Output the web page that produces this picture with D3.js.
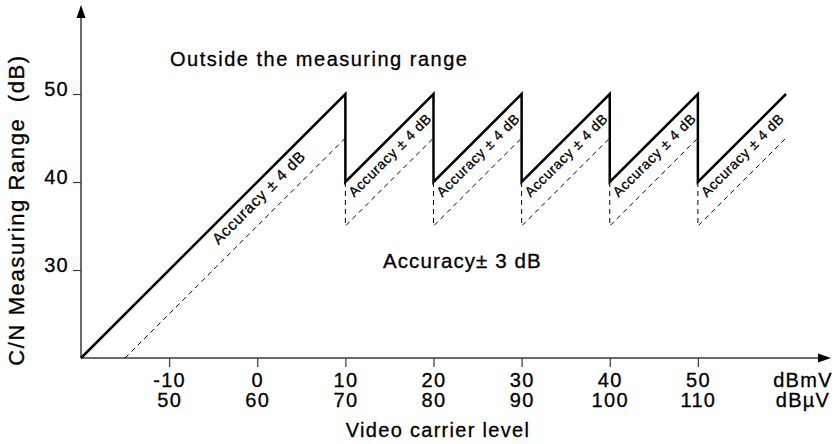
<!DOCTYPE html>
<html>
<head>
<meta charset="utf-8">
<script src="https://cdn.jsdelivr.net/npm/d3@7"></script>
<style>
  body { margin: 0; background: #fff; }
  svg text {
    font-family: "Liberation Sans", Arial, Helvetica, sans-serif;
    fill: #000;
    stroke: #000;
    stroke-width: 0.3px;
  }
</style>
</head>
<body>
<div id="chart"></div>
<script>
// tick values and labels
const xTicks = [-10, 0, 10, 20, 30, 40, 50];
const xTicksMicro = [50, 60, 70, 80, 90, 100, 110];
const yTicks = [30, 40, 50];

// upper limit of the measuring range (dBmV, dB)
const solidLine = [
  [-20, 20], [10, 50], [10, 40], [20, 50], [20, 40], [30, 50],
  [30, 40], [40, 50], [40, 40], [50, 50], [50, 40], [60, 50]
];

// boundary between +/-4 dB and +/-3 dB accuracy
const dashedLines = [
  [[-15, 20], [10, 45]],
  [[10, 40], [10, 35], [20, 45]],
  [[20, 40], [20, 35], [30, 45]],
  [[30, 40], [30, 35], [40, 45]],
  [[40, 40], [40, 35], [50, 45]],
  [[50, 40], [50, 35], [60, 45]]
];

// start of each "Accuracy ± 4 dB" label, in data units
const bandLabels = [
  [-4.4, 32.8], [11, 38.2], [21, 38.2], [31, 38.2], [41, 38.2], [51, 38.2]
];

const width = 840;
const height = 444;

const svg = d3.select("#chart")
  .append("svg")
  .attr("width", width)
  .attr("height", height);

const x = d3.scaleLinear()
  .domain([-20, 60])
  .range([81, 786]);

const y = d3.scaleLinear()
  .domain([20, 50])
  .range([358, 94]);

const axisColor = "#3a3a3a";

// x axis ticks with two label rows (dBmV / dBµV)
const xAxis = svg.append("g")
  .attr("transform", `translate(0,${y(20)})`)
  .call(d3.axisBottom(x).tickValues(xTicks).tickSize(9).tickSizeOuter(0));
xAxis.select(".domain").remove();
xAxis.selectAll("line").attr("stroke", axisColor).attr("stroke-width", 1.2);
xAxis.selectAll("text").each(function(d, i) {
  const t = d3.select(this)
    .text(null)
    .attr("y", 0)
    .attr("dy", null)
    .style("font-size", "20px")
    .style("letter-spacing", "1.3px");
  t.append("tspan").attr("x", 0).attr("y", 29).text(d);
  t.append("tspan").attr("x", 0).attr("y", 49).text(xTicksMicro[i]);
});

// y axis ticks
const yAxis = svg.append("g")
  .attr("transform", `translate(${x(-20)},0)`)
  .call(d3.axisLeft(y).tickValues(yTicks).tickSize(8).tickSizeOuter(0));
yAxis.select(".domain").remove();
yAxis.selectAll("line").attr("stroke", axisColor).attr("stroke-width", 1.2);
yAxis.selectAll("text")
  .attr("x", -12)
  .attr("dy", "0.05em")
  .style("font-size", "20px")
  .style("letter-spacing", "1.3px");

// axis lines with arrow heads
svg.append("line")
  .attr("x1", x(-20)).attr("y1", y(20))
  .attr("x2", 826).attr("y2", y(20))
  .attr("stroke", axisColor).attr("stroke-width", 1.5);
svg.append("path")
  .attr("d", `M831,${y(20)} L818,${y(20) - 4.5} L818,${y(20) + 4.5} Z`)
  .attr("fill", "#000");

svg.append("line")
  .attr("x1", x(-20)).attr("y1", y(20))
  .attr("x2", x(-20)).attr("y2", 12)
  .attr("stroke", axisColor).attr("stroke-width", 1.5);
svg.append("path")
  .attr("d", `M${x(-20)},5 L${x(-20) - 4.5},18 L${x(-20) + 4.5},18 Z`)
  .attr("fill", "#000");

const line = d3.line()
  .x(d => x(d[0]))
  .y(d => y(d[1]));

// dashed accuracy boundaries
svg.selectAll(".dashed")
  .data(dashedLines)
  .join("path")
  .attr("class", "dashed")
  .attr("fill", "none")
  .attr("stroke", "#000")
  .attr("stroke-width", 1)
  .attr("stroke-dasharray", "5,4")
  .attr("d", line);

// measuring range limit
svg.append("path")
  .datum(solidLine)
  .attr("fill", "none")
  .attr("stroke", "#000")
  .attr("stroke-width", 2.5)
  .attr("stroke-linejoin", "miter")
  .attr("d", line);

// rotated band labels
svg.selectAll(".band-label")
  .data(bandLabels)
  .join("text")
  .attr("class", "band-label")
  .attr("transform", d => `translate(${x(d[0])},${y(d[1])}) rotate(-45)`)
  .style("font-size", (d, i) => i === 0 ? "15.5px" : "14px")
  .style("letter-spacing", (d, i) => i === 0 ? "0.8px" : "0.6px")
  .text("Accuracy ± 4 dB");

// region annotations
svg.append("text")
  .attr("x", 170)
  .attr("y", 66)
  .style("font-size", "20px")
  .style("letter-spacing", "1.5px")
  .text("Outside the measuring range");

svg.append("text")
  .attr("x", 383)
  .attr("y", 268)
  .style("font-size", "20.5px")
  .style("letter-spacing", "1.1px")
  .text("Accuracy± 3 dB");

// unit labels at the end of the x axis
const units = svg.append("text")
  .attr("text-anchor", "middle")
  .style("font-size", "20px")
  .style("letter-spacing", "1.3px");
units.append("tspan").attr("x", 803).attr("y", 387).text("dBmV");
units.append("tspan").attr("x", 803).attr("y", 407).text("dBµV");

// axis titles
svg.append("text")
  .attr("x", 438)
  .attr("y", 437)
  .attr("text-anchor", "middle")
  .style("font-size", "20px")
  .style("letter-spacing", "1.3px")
  .text("Video carrier level");

svg.append("text")
  .attr("transform", "translate(24,210) rotate(-90)")
  .attr("text-anchor", "middle")
  .style("font-size", "22px")
  .style("letter-spacing", "1.6px")
  .style("white-space", "pre")
  .text("C/N Measuring Range  (dB)");
</script>
</body>
</html>
